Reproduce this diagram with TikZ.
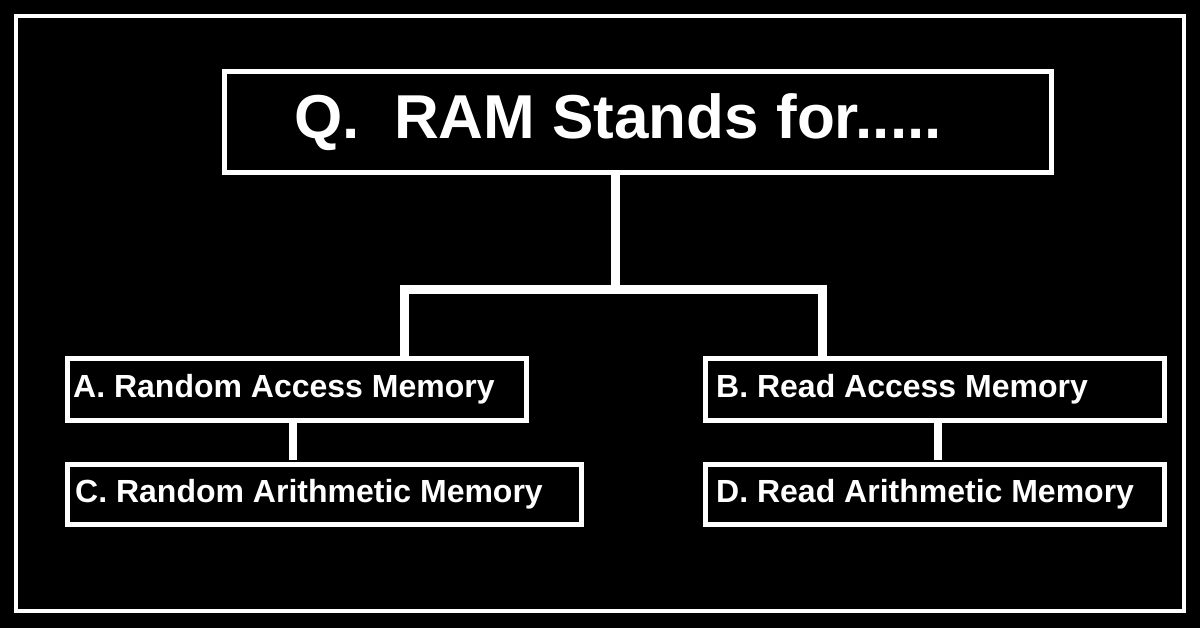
\documentclass[tikz,border=0pt]{standalone}
\usepackage{fontspec}
\setmainfont{Liberation Sans}
\begin{document}
\begin{tikzpicture}[x=1pt,y=-1pt,
  box/.style={draw=white,line width=5pt,anchor=north west,inner sep=0pt},
  lbl/.style={anchor=west,xshift=8pt,inner sep=0pt,text=white,font=\bfseries\fontsize{32}{36}\selectfont},
  link/.style={draw=white,line width=9pt}]
\fill[black] (0,0) rectangle (1200,628);
\useasboundingbox (0,0) rectangle (1200,628);
\draw[white,line width=4pt] (16,16) rectangle (1184,611);
\node[box,text=white,minimum width=827pt,minimum height=101pt,font=\bfseries\fontsize{62}{66}\selectfont] (q) at (222,69) {\hspace*{-40pt}Q.\ \ RAM Stands for.....};
\node[box,minimum width=459pt,minimum height=62pt] (a) at (65,356) {};
\node[box,minimum width=459pt,minimum height=62pt] (b) at (703,356) {};
\node[box,minimum width=514pt,minimum height=60pt] (c) at (65,462) {};
\node[box,minimum width=459pt,minimum height=60pt] (d) at (703,462) {};
\node[lbl] (ta) at (a.west) {A. Random Access Memory};
\node[lbl,xshift=5pt] (tb) at (b.west) {B. Read Access Memory};
\node[lbl,xshift=2pt] (tc) at (c.west) {C. Random Arithmetic Memory};
\node[lbl,xshift=5pt] (td) at (d.west) {D. Read Arithmetic Memory};
\coordinate (m) at (615,290);
\coordinate (ml) at (404,290);
\coordinate (mr) at (822,290);
\draw[link] (q.south -| m) -- (m);
\draw[link,line cap=rect] (ml) -- (mr);
\draw[link] (ml) -- (a.north -| ml);
\draw[link] (mr) -- (b.north -| mr);
\draw[white,line width=8pt] (293,420) -- (293,460);
\draw[white,line width=8pt] (938,420) -- (938,460);
\end{tikzpicture}
\end{document}
